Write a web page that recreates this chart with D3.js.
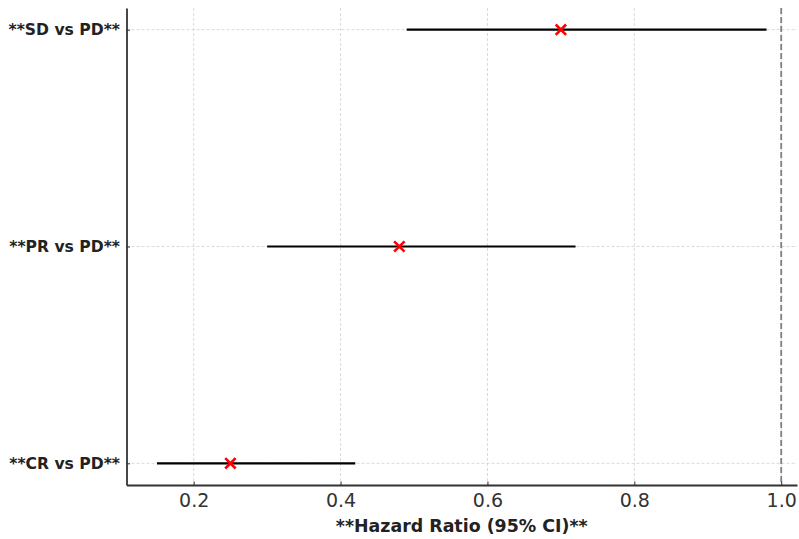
<!DOCTYPE html>
<html>
<head>
<meta charset="utf-8">
<script src="https://cdn.jsdelivr.net/npm/d3@7"></script>
<style>
  body { margin: 0; background: #fff; }
  svg { font-family: 'DejaVu Sans', sans-serif; }
</style>
</head>
<body>
<div id="chart"></div>
<script>
const categories = ['**CR vs PD**', '**PR vs PD**', '**SD vs PD**']
const hazardRatio = [0.25, 0.48, 0.70]
const lowerCI = [0.15, 0.30, 0.49]
const upperCI = [0.42, 0.72, 0.98]
const xTicks = [0.2, 0.4, 0.6, 0.8, 1.0]

const width = 799
const height = 539
const margin = { top: 8, right: 2, bottom: 54, left: 126.5 }
const innerW = width - margin.left - margin.right
const innerH = height - margin.top - margin.bottom

const data = categories.map((c, i) => ({ key: c, hr: hazardRatio[i], lo: lowerCI[i], hi: upperCI[i], idx: i }))

const svg = d3.select('#chart').append('svg')
  .attr('width', width)
  .attr('height', height)

const g = svg.append('g')
  .attr('transform', 'translate(' + [margin.left, margin.top] + ')')

const x = d3.scaleLinear().domain([0.1085, 1.0215]).range([0, innerW])
const y = d3.scaleLinear().domain([-0.1, 2.1]).range([innerH, 0])

// grid
g.append('g').selectAll('line.vgrid')
  .data(xTicks)
  .enter().append('line')
  .attr('x1', d => x(d)).attr('x2', d => x(d))
  .attr('y1', 0).attr('y2', innerH)
  .attr('stroke', '#d0d0d0').attr('stroke-width', 0.8)
  .attr('stroke-dasharray', '3,2')

g.append('g').selectAll('line.hgrid')
  .data(data)
  .enter().append('line')
  .attr('x1', 0).attr('x2', innerW)
  .attr('y1', d => y(d.idx)).attr('y2', d => y(d.idx))
  .attr('stroke', '#d0d0d0').attr('stroke-width', 0.8)
  .attr('stroke-dasharray', '3,2')

// reference line at 1
g.append('line')
  .attr('x1', x(1)).attr('x2', x(1))
  .attr('y1', 0).attr('y2', innerH)
  .attr('stroke', '#808080').attr('stroke-width', 1.8)
  .attr('stroke-dasharray', '6,3')

// CI lines
g.append('g').selectAll('line.ci')
  .data(data)
  .enter().append('line')
  .attr('x1', d => x(d.lo)).attr('x2', d => x(d.hi))
  .attr('y1', d => y(d.idx)).attr('y2', d => y(d.idx))
  .attr('stroke', '#000').attr('stroke-width', 2.2)

// points (x markers)
const s = 5.2
g.append('g').selectAll('path.pt')
  .data(data)
  .enter().append('path')
  .attr('d', d => {
    const cx = x(d.hr), cy = y(d.idx)
    return 'M' + (cx - s) + ',' + (cy - s) + 'L' + (cx + s) + ',' + (cy + s) +
      'M' + (cx - s) + ',' + (cy + s) + 'L' + (cx + s) + ',' + (cy - s)
  })
  .attr('stroke', '#ff0000').attr('stroke-width', 2.6)

// axes
const xAxis = d3.axisBottom(x).tickValues(xTicks).tickFormat(d3.format('.1f')).tickSizeInner(-3.5).tickSizeOuter(0).tickPadding(8.5)
const gx = g.append('g').attr('transform', 'translate(0,' + innerH + ')').call(xAxis)
gx.select('.domain').attr('stroke', '#333').attr('stroke-width', 1.8)
gx.selectAll('.tick line').attr('stroke', '#333')
gx.selectAll('.tick text').attr('font-size', 19).attr('fill', '#333').attr('font-family', 'DejaVu Sans')

const yAxis = d3.axisLeft(y).tickValues(data.map(d => d.idx)).tickFormat(i => categories[i]).tickSizeInner(-3.5).tickSizeOuter(0).tickPadding(6.5)
const gy = g.append('g').call(yAxis)
gy.select('.domain').attr('stroke', '#333').attr('stroke-width', 1.8)
gy.selectAll('.tick line').attr('stroke', '#333')
gy.selectAll('.tick text').attr('font-size', 15.6).attr('font-weight', 'bold').attr('fill', '#222').attr('font-family', 'DejaVu Sans')

// x title
svg.append('text')
  .attr('x', margin.left + innerW / 2)
  .attr('y', 532)
  .attr('text-anchor', 'middle')
  .attr('font-size', 17.4)
  .attr('font-weight', 'bold')
  .attr('fill', '#222')
  .text('**Hazard Ratio (95% CI)**')
</script>
</body>
</html>
